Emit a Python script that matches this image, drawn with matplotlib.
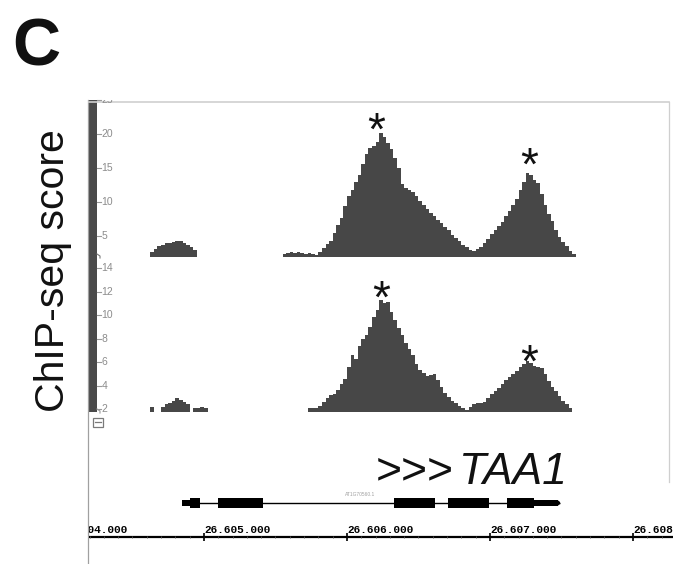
import matplotlib
matplotlib.use("Agg")
import matplotlib.pyplot as plt
import numpy as np
from matplotlib import transforms
from matplotlib.patches import Rectangle, Polygon

W, H = 673, 564
fig = plt.figure(figsize=(W / 100, H / 100), dpi=100)
plt.rcParams['font.family'] = ['Liberation Sans', 'DejaVu Sans']

# ---------------- data ----------------
BASE = 26604000          # genomic origin of the offsets below (bp)
BIN = 25                 # bin width of coverage tracks (bp)

# Track 1 ChIP-seq score (offset of first bin, values per bin)
t1_seg1_start = 625
t1_seg1_vals = [2.6, 3.1, 3.5, 3.7, 3.9, 4.0, 4.1, 4.2, 4.3, 4.0, 3.7, 3.4, 2.9]
t1_seg2_start = 1550
t1_seg2_vals = [2.4, 2.5, 2.6, 2.5, 2.6, 2.5, 2.4, 2.5, 2.3, 2.2,
                2.7, 3.2, 3.8, 4.3, 5.4, 6.6, 7.7, 9.4, 10.9, 11.8,
                13.0, 13.9, 15.6, 17.0, 17.9, 18.3, 18.8, 20.2, 19.6, 18.6,
                17.8, 16.4, 15.0, 12.6, 12.1, 11.8, 11.4, 10.9, 10.2, 9.6,
                8.9, 8.4, 7.9, 7.4, 6.9, 6.3, 5.8, 5.2, 4.7, 4.2,
                3.7, 3.3, 2.9, 2.8, 3.1, 3.4, 3.9, 4.6, 5.3, 5.9,
                6.5, 7.1, 7.9, 8.6, 9.5, 10.4, 11.8, 12.9, 14.2, 14.0,
                13.3, 12.8, 11.2, 9.6, 8.3, 7.2, 5.9, 4.8, 4.1, 3.5,
                2.8, 2.4]

# Track 2 ChIP-seq score
t2_seg1_start = 625
t2_seg1_vals = [2.2]
t2_seg2_start = 700
t2_seg2_vals = [2.2, 2.4, 2.5, 2.7, 2.9, 2.8, 2.6, 2.4]
t2_seg3_start = 925
t2_seg3_vals = [2.1, 2.1, 2.2, 2.1]
t2_seg4_start = 1725
t2_seg4_vals = [2.05, 2.1]
t2_seg5_start = 1775
t2_seg5_vals = [2.1, 2.3, 2.6, 2.9, 3.2, 3.3, 3.6, 4.1, 4.6, 5.6,
                6.6, 6.3, 7.4, 8.0, 8.3, 9.0, 9.8, 10.4, 11.3, 11.0,
                11.1, 10.3, 9.6, 8.9, 8.3, 7.6, 7.1, 6.6, 5.8, 5.3,
                5.1, 4.8, 4.9, 5.0, 4.5, 3.9, 3.4, 3.0, 2.7, 2.5,
                2.3, 2.1, 1.9, 2.2, 2.4, 2.5, 2.5, 2.6, 2.9, 3.3,
                3.5, 3.8, 4.1, 4.5, 4.7, 5.0, 5.2, 5.6, 5.8, 6.1,
                5.9, 5.7, 5.6, 5.5, 5.0, 4.4, 3.9, 3.5, 3.1, 2.7,
                2.4, 2.1]

t1_ticks = [5, 10, 15, 20, 25]
t2_ticks = [2, 4, 6, 8, 10, 12, 14]
t1_range = (1.9, 25.0)
t2_range = (1.75, 14.94)

# asterisks above significant peaks (genomic position, score)
t1_stars = [(26606203, 22.2), (26607273, 17.1)]
t2_stars = [(26606238, 12.4), (26607273, 7.0)]

# gene model TAA1 (AT1G70560.1)
utr_parts = [(26604846, 26604902), (26607308, 26607475)]
exon_parts = [(26604902, 26604972), (26605098, 26605413), (26606329, 26606615),
              (26606706, 26606993), (26607119, 26607308)]
gene_span = (26604846, 26607490)
gene_name = "TAA1"
transcript_id = "AT1G70560.1"

# ruler
major_ticks = [26604000, 26605000, 26606000, 26607000, 26608000]
major_labels = ["26.604.000", "26.605.000", "26.606.000", "26.607.000", "26.608.000"]
minor_ticks = list(range(26604200, 26608300, 100))

# ---------------- layout helpers ----------------
PX_PER_BP = 0.143
XMIN = 26604196.0      # coordinate at pixel x = 89


def px2bp(px):
    return XMIN + (px - 89) / PX_PER_BP


def add_ax(l, t, r, b):
    ax = fig.add_axes([l / W, 1 - b / H, (r - l) / W, (b - t) / H])
    ax.set_xlim(px2bp(l), px2bp(r))
    ax.set_facecolor('none')
    ax.axis('off')
    return ax


FILL = '#474747'
GRAY_TXT = '#8c8c8c'

# overlay in pixel coordinates
ov = fig.add_axes([0, 0, 1, 1])
ov.set_xlim(0, W)
ov.set_ylim(H, 0)
ov.axis('off')
ov.set_facecolor('none')
ov.plot([88, 88], [100, 564], color='#a0a0a0', lw=0.9)
ov.plot([89, 669], [102, 102], color='#d0d0d0', lw=1.2)
ov.plot([669, 669], [102, 482], color='#cfcfcf', lw=0.9)
ov.add_patch(Rectangle((89, 100), 8, 312, color='#4a4a4a', lw=0))
ov.plot([97, 100, 100], [254, 256, 258], color='#777777', lw=0.8)
ov.plot([97, 100, 100], [409, 411, 413], color='#999999', lw=0.8)
ov.add_patch(Rectangle((92.5, 417.5), 10, 9.5, fill=False, ec='#7a7a7a', lw=0.9))
ov.plot([94.5, 100.5], [422.2, 422.2], color='#7a7a7a', lw=0.9)


def draw_track(ax, segs, yr, ticks, stars):
    ax.set_ylim(*yr)
    for start, vals in segs:
        edges = BASE + start + BIN * np.arange(len(vals) + 1)
        ax.stairs(vals, edges, baseline=yr[0], fill=True, color=FILL, lw=0)
    tr = transforms.blended_transform_factory(ax.transAxes, ax.transData)
    for tv in ticks:
        ln, = ax.plot([0.0138, 0.0205], [tv, tv], transform=tr, color='#9a9a9a', lw=0.8)
        ln.set_clip_on(False)
        t = ax.text(0.0215, tv, str(tv), transform=tr, ha='left', va='center',
                    fontsize=7.5, color=GRAY_TXT, clip_on=True)
        t.set_clip_box(ax.bbox)
    off = transforms.ScaledTranslation(0, -0.26, fig.dpi_scale_trans)
    for sx, sy in stars:
        ax.text(sx, sy, '*', transform=ax.transData + off, ha='center', va='baseline',
                fontsize=33, color='#111111')


ax1 = add_ax(89, 100, 669, 257)
draw_track(ax1, [(t1_seg1_start, t1_seg1_vals), (t1_seg2_start, t1_seg2_vals)],
           t1_range, t1_ticks, t1_stars)

ax2 = add_ax(89, 257, 669, 412)
draw_track(ax2, [(t2_seg1_start, t2_seg1_vals), (t2_seg2_start, t2_seg2_vals),
                 (t2_seg3_start, t2_seg3_vals), (t2_seg4_start, t2_seg4_vals),
                 (t2_seg5_start, t2_seg5_vals)],
           t2_range, t2_ticks, t2_stars)

# gene model
axg = add_ax(89, 483, 669, 523)
axg.set_ylim(-2, 2)
axg.plot(gene_span, [0, 0], color='black', lw=1.0, solid_capstyle='butt')
for s, e in exon_parts:
    axg.add_patch(Rectangle((s, -0.5), e - s, 1.0, color='black', lw=0))
for s, e in utr_parts:
    axg.add_patch(Rectangle((s, -0.27), e - s, 0.54, color='black', lw=0))
axg.add_patch(Polygon([(utr_parts[1][1], -0.27), (gene_span[1], -0.1),
                       (gene_span[1], 0.1), (utr_parts[1][1], 0.27)], color='black', lw=0))
axg.text(26606090, 0.65, transcript_id, fontsize=3.5, color='#a0a0a0', ha='center', va='bottom')

fig.text(376 / W, 1 - 483.5 / H, '>>>', fontsize=32, color='#111111', ha='left', va='baseline')
fig.text(459 / W, 1 - 483.5 / H, gene_name, fontsize=32, color='#111111', ha='left',
         va='baseline', style='italic')

# ruler
axr = add_ax(89, 522, 673, 552)
axr.set_ylim(0, 1)
axr.axhline(0.5, color='black', lw=1.6)
axr.vlines(minor_ticks, 0.46, 0.54, color='#555555', lw=0.6)
axr.vlines(major_ticks, 0.38, 0.62, color='black', lw=1.2)
for tx, lb in zip(major_ticks, major_labels):
    t = axr.text(tx, 0.64, lb, ha='left', va='baseline', fontsize=8,
                 family='Liberation Mono', weight='bold', color='black', clip_on=True)
    t.set_clip_box(axr.bbox)

# panel letter and y label
fig.text(12 / W, 1 - 66 / H, 'C', fontsize=48, weight='bold', color='#111111',
         ha='left', va='baseline')
fig.text(53 / W, 1 - 271 / H, 'ChIP-seq score', fontsize=29.5, rotation=90,
         color='#111111', ha='center', va='center')

fig.savefig('out.png', dpi=100)
